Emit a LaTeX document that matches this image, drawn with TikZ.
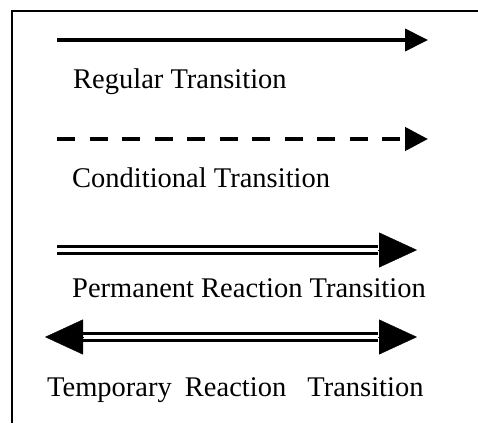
\documentclass[tikz,border=0pt]{standalone}
\usepackage{fontspec}
\setmainfont{Liberation Serif}
\usetikzlibrary{arrows.meta}

\tikzset{
    frame/.style={line width=2.2bp},
    lbl/.style={anchor=base west, inner sep=0pt, font=\fontsize{28.5bp}{30bp}\selectfont},
    plain/.style={line width=4bp, -{Triangle[length=23bp,width=22bp]}},
    cond/.style={line width=4.5bp, dash pattern=on 18bp off 14.5bp, -{Triangle[length=23bp,width=23bp]}},
    dbl/.style={double, double distance=3.5bp, line width=3.6bp},
    bighead/.style={line width=0.4bp, -{Triangle[length=38bp,width=35bp]}}
}

\begin{document}
\begin{tikzpicture}[x=1bp,y=1bp]
    \useasboundingbox (0,0) rectangle (478,423);
    \draw[frame](12,0)--(12,412)--(478,412);

    \coordinate (reg-s) at (57,383);
    \coordinate (reg-e) at (428,383);
    \coordinate (cond-s) at (57,284);
    \coordinate (cond-e) at (428,284);
    \coordinate (perm-s) at (57,173);
    \coordinate (perm-b) at (378,173);
    \coordinate (perm-e) at (417,173);
    \coordinate (temp-l) at (45,86);
    \coordinate (temp-lb) at (83,86);
    \coordinate (temp-rb) at (378,86);
    \coordinate (temp-r) at (417,86);

    \draw[plain](reg-s)--(reg-e);
    \node[lbl] (reg) at (73,335) {Regular Transition};

    \draw[cond](cond-s)--(cond-e);
    \node[lbl] (cond) at (72,236) {Conditional Transition};

    \draw[dbl](perm-s)--(perm-b);
    \draw[bighead](perm-b)--(perm-e);
    \node[lbl] (perm) at (72,126) {Permanent Reaction Transition};

    \draw[dbl](temp-lb)--(temp-rb);
    \draw[bighead](temp-lb)--(temp-l);
    \draw[bighead](temp-rb)--(temp-r);
    \node[lbl] (temp) at (47,27) {Temporary\hspace{6bp} Reaction\hspace{14bp} Transition};
\end{tikzpicture}
\end{document}
